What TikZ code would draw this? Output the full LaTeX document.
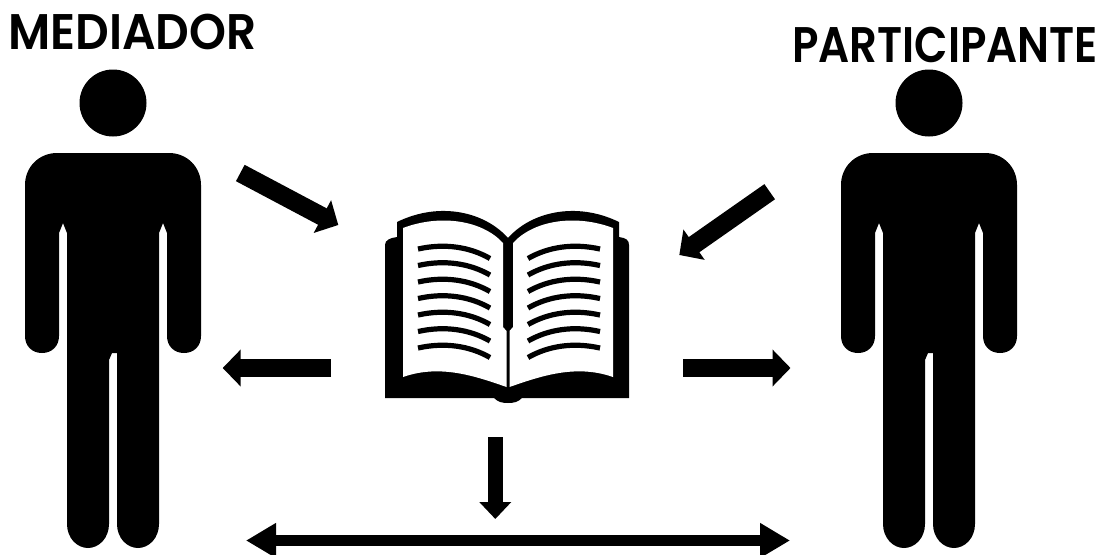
\documentclass[tikz,border=0pt]{standalone}
\usepackage{fontspec}
\setmainfont{Poppins}[BoldFont={Poppins SemiBold}]
\usetikzlibrary{arrows.meta, positioning}

\begin{document}
\begin{tikzpicture}  [
        x = 1pt, y = -1pt,
        title/.style = {font=\fontsize{50}{50}\selectfont\bfseries, inner sep=0pt, anchor=base},
        arrowfat/.style = {line width=18.5pt, -{Triangle[length=18pt, width=36pt]}},
        arrowmid/.style = {line width=15.4pt, -{Triangle[length=17pt, width=31pt]}},
        arrowlong/.style = {line width=11pt, {Triangle[length=30pt, width=33pt]}-{Triangle[length=30pt, width=33pt]}},
        person/.pic = {
            \fill (0,103) circle (33.5);
            \fill (-56,153) .. controls (-74,153) and (-88,167) .. (-88,185)
                -- (-88,336) .. controls (-88,346) and (-81,353) .. (-71,353)
                .. controls (-61,353) and (-54,346) .. (-54,336)
                -- (-54,233) -- (-50,223) -- (-46,233)
                -- (-46,524) .. controls (-46,538) and (-36,548) .. (-25,548)
                .. controls (-14,548) and (-4,538) .. (-4,524)
                -- (-4,360) -- (-1,353) -- (4,353)
                -- (4,524) .. controls (4,538) and (14,548) .. (25,548)
                .. controls (36,548) and (46,538) .. (46,524)
                -- (46,233) -- (50,223) -- (54,233)
                -- (54,336) .. controls (54,346) and (61,353) .. (71,353)
                .. controls (81,353) and (88,346) .. (88,336)
                -- (88,185) .. controls (88,167) and (74,153) .. (56,153) -- cycle;
        }
    ]

    \useasboundingbox (0,0) rectangle (1102,554);

    \node[title, xscale=.94, transform shape] (mediador)     at (132.5,49) {MEDIADOR};
    \node[title, xscale=.87, transform shape] (participante) at (945,62) {PARTICIPANTE};

    \pic (med) at (113,0) {person};
    \pic (par) at (929,0) {person};

    % book
    \fill (385,245) .. controls (385,240) and (390,238) .. (397,237) -- (397,222)
        .. controls (440,201) and (485,212) .. (508,238)
        .. controls (531,212) and (576,201) .. (619,222) -- (619,237)
        .. controls (626,238) and (629,240) .. (629,245) -- (629,398) -- (522,398)
        .. controls (518,402) and (514,403) .. (508,403)
        .. controls (502,403) and (498,402) .. (494,398) -- (385,398) -- cycle;
    \fill[white] (403,228) .. controls (440,214) and (482,220) .. (503,243)
        -- (503,327) -- (506.5,331) -- (506.5,387)
        .. controls (475,376) and (440,364) .. (403,377) -- cycle;
    \fill[white] (613,228) .. controls (576,214) and (534,220) .. (513,243)
        -- (513,327) -- (509.5,331) -- (509.5,387)
        .. controls (541,376) and (576,364) .. (613,377) -- cycle;
    \foreach \i in {0,...,6} {
        \draw[line width=5.2pt] (418,249+16.5*\i) .. controls (445,243+16.5*\i) and (470,247+16.5*\i) .. (490,258.5+16.5*\i);
        \draw[line width=5.2pt] (600,249+16.5*\i) .. controls (573,243+16.5*\i) and (548,247+16.5*\i) .. (528,258.5+16.5*\i);
    }

    \coordinate (a1) at (240.3,173);
    \coordinate (b1) at (338.3,225);
    \coordinate (a2) at (769.7,191.7);
    \coordinate (b2) at (679.3,255);
    \coordinate (a3) at (331,368);
    \coordinate (b3) at (222.7,368);
    \coordinate (a4) at (683,368);
    \coordinate (b4) at (790.5,368);
    \coordinate (a5) at (495.3,437);
    \coordinate (b5) at (495.3,519);
    \coordinate (a6) at (246,540.5);
    \coordinate (b6) at (790,540.5);

    \draw[arrowfat] (a1) -- (b1);
    \draw[arrowfat] (a2) -- (b2);
    \draw[arrowfat] (a3) -- (b3);
    \draw[arrowfat] (a4) -- (b4);
    \draw[arrowmid] (a5) -- (b5);
    \draw[arrowlong] (a6) -- (b6);

\end{tikzpicture}
\end{document}
